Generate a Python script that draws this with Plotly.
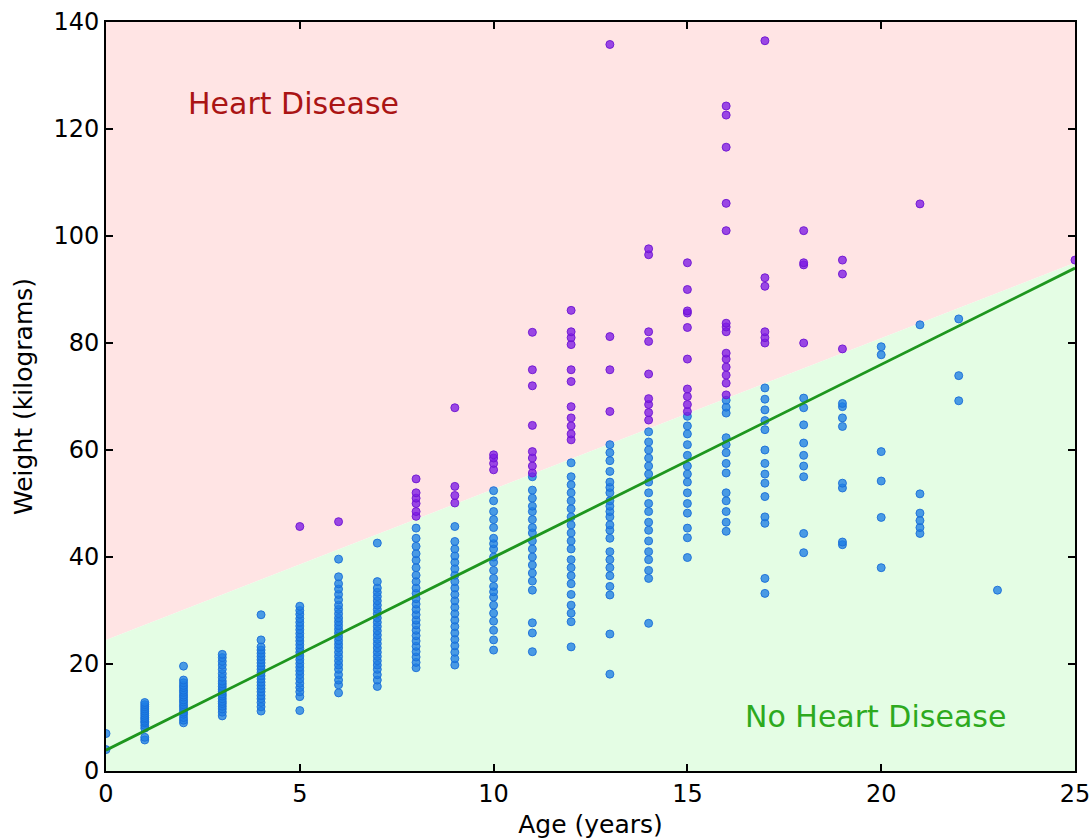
import plotly.graph_objects as go

# ---- data ----
ages = [0, 1, 2, 3, 4, 5, 6, 7, 8, 9, 10, 11, 12, 13, 14, 15, 16, 17, 18, 19, 20, 21, 22, 23, 25]

w_age0 = [7.0, 4.0]
w_age1 = [5.8, 6.3, 8.0, 8.5, 9.0, 9.3, 9.7, 10.0, 10.4, 10.8, 11.2, 11.6, 12.0, 12.4, 12.8]
w_age2 = [9.0, 9.5, 10.0, 10.6, 11.0, 11.5, 12.0, 12.4, 12.9, 13.3, 13.8, 14.2, 14.7, 15.1, 15.6, 16.0, 16.5, 17.0, 19.6]
w_age3 = [10.3, 11.0, 11.6, 12.1, 12.6, 13.0, 13.5, 14.0, 14.4, 14.9, 15.3, 15.8, 16.3, 16.8, 17.5, 18.2, 19.0, 19.8, 20.5, 21.2, 21.8]
w_age4 = [11.2, 12.0, 12.8, 13.5, 14.1, 14.8, 15.4, 16.0, 16.6, 17.2, 17.8, 18.4, 19.0, 19.6, 20.2, 20.8, 21.4, 22.0, 22.6, 23.2, 24.5, 29.2]
w_age5 = [11.3, 13.9, 14.8, 15.6, 16.4, 17.2, 18.0, 18.7, 19.4, 20.1, 20.8, 21.5, 22.2, 22.9, 23.6, 24.3, 25.0, 25.7, 26.4, 27.1, 27.8, 28.5, 29.3, 30.0, 30.8, 45.7]
w_age6 = [14.6, 16.1, 17.0, 18.0, 19.0, 19.8, 20.6, 21.4, 22.2, 23.0, 23.7, 24.4, 25.1, 25.8, 26.5, 27.2, 27.9, 28.6, 29.4, 30.2, 31.0, 32.0, 33.0, 34.0, 35.0, 36.3, 39.6, 46.6]
w_age7 = [15.8, 17.0, 18.0, 19.0, 19.8, 20.6, 21.4, 22.2, 23.0, 23.8, 24.6, 25.4, 26.2, 27.0, 27.8, 28.6, 29.4, 30.2, 31.0, 31.8, 32.6, 33.4, 34.2, 35.4, 42.6]
w_age8 = [19.3, 20.3, 21.3, 22.3, 23.3, 24.3, 25.3, 26.3, 27.3, 28.2, 29.2, 30.2, 31.2, 32.2, 33.2, 34.2, 35.4, 36.6, 38.0, 39.4, 40.6, 42.0, 43.5, 45.4, 47.6, 48.5, 50.0, 51.0, 52.0, 54.6]
w_age9 = [19.8, 21.0, 22.2, 23.4, 24.6, 25.8, 27.0, 28.2, 29.4, 30.6, 31.8, 33.0, 34.2, 35.4, 36.6, 37.8, 39.0, 40.2, 41.5, 42.9, 45.7, 50.1, 51.5, 53.2, 67.9]
w_age10 = [22.6, 24.5, 26.3, 28.0, 29.5, 31.0, 32.5, 33.5, 34.5, 36.0, 37.5, 39.0, 40.0, 41.5, 42.5, 43.5, 45.5, 47.0, 48.5, 50.5, 52.4, 56.3, 57.5, 58.5, 59.1]
w_age11 = [22.3, 25.8, 27.7, 33.8, 35.5, 37.0, 38.5, 40.0, 41.5, 43.0, 44.5, 45.5, 47.0, 48.5, 49.5, 51.0, 52.5, 55.0, 55.7, 57.0, 58.5, 59.7, 64.6, 72.0, 75.0, 82.0]
w_age12 = [23.2, 27.9, 29.5, 31.0, 33.0, 35.0, 36.5, 38.0, 39.5, 41.5, 43.0, 44.5, 46.0, 47.5, 49.0, 50.5, 52.0, 53.5, 55.0, 57.6, 61.9, 63.0, 64.5, 66.0, 68.1, 72.8, 75.0, 79.7, 81.0, 82.1, 86.1]
w_age13 = [18.1, 25.6, 32.9, 34.5, 36.5, 38.0, 39.5, 41.0, 43.5, 45.0, 46.0, 47.5, 48.5, 49.5, 50.5, 52.0, 53.0, 54.0, 56.0, 58.0, 59.5, 61.0, 67.2, 75.0, 81.2, 135.8]
w_age14 = [27.6, 36.0, 37.5, 39.5, 41.0, 43.0, 45.0, 46.5, 48.5, 50.0, 52.0, 54.0, 55.5, 57.0, 58.5, 60.0, 61.5, 63.4, 65.6, 67.0, 68.5, 69.6, 74.2, 80.3, 82.1, 96.5, 97.6]
w_age15 = [39.9, 43.6, 45.4, 48.2, 50.0, 52.0, 54.0, 55.5, 57.0, 59.0, 61.0, 63.0, 64.5, 66.3, 67.2, 68.5, 70.0, 71.4, 77.0, 82.9, 85.6, 86.0, 90.0, 95.0]
w_age16 = [44.8, 46.5, 48.5, 50.5, 52.0, 55.7, 57.5, 59.5, 61.0, 62.3, 66.9, 68.0, 69.3, 70.3, 72.5, 74.0, 75.5, 77.0, 78.1, 82.1, 83.0, 83.7, 101.0, 106.1, 116.6, 122.6, 124.3]
w_age17 = [33.2, 36.0, 46.3, 47.5, 51.3, 53.8, 55.5, 57.5, 60.0, 63.8, 65.5, 67.5, 69.5, 71.6, 80.0, 81.0, 82.1, 90.6, 92.2, 136.5]
w_age18 = [40.8, 44.4, 55.0, 57.0, 59.0, 61.3, 64.7, 67.9, 69.7, 80.0, 94.6, 95.0, 101.0]
w_age19 = [42.3, 42.8, 52.9, 53.8, 64.4, 66.0, 68.1, 68.7, 78.9, 92.9, 95.5]
w_age20 = [38.0, 47.4, 54.2, 59.7, 77.8, 79.3]
w_age21 = [44.4, 45.5, 46.8, 48.2, 51.8, 83.4, 106.0]
w_age22 = [69.2, 73.9, 84.5]
w_age23 = [33.8]
w_age25 = [95.5]

weights_by_age = [w_age0, w_age1, w_age2, w_age3, w_age4, w_age5, w_age6, w_age7, w_age8,
                  w_age9, w_age10, w_age11, w_age12, w_age13, w_age14, w_age15, w_age16,
                  w_age17, w_age18, w_age19, w_age20, w_age21, w_age22, w_age23, w_age25]

# decision boundary between the two shaded regions
boundary_x = [0, 25]
boundary_y = [24.5, 95.0]

# fitted regression line (green)
fit_x = [0, 25]
fit_y = [3.9, 94.0]

x_range = [0, 25]
y_range = [0, 140]
x_ticks = [0, 5, 10, 15, 20, 25]
y_ticks = [0, 20, 40, 60, 80, 100, 120, 140]

# ---- build point lists, coloured by side of the boundary ----
slope = (boundary_y[1] - boundary_y[0]) / (boundary_x[1] - boundary_x[0])
bx_blue, by_blue, bx_purple, by_purple = [], [], [], []
for a, ws in zip(ages, weights_by_age):
    for w in ws:
        if w > boundary_y[0] + slope * (a - boundary_x[0]):
            bx_purple.append(a); by_purple.append(w)
        else:
            bx_blue.append(a); by_blue.append(w)

FONT = "DejaVu Sans"
fig = go.Figure()

# shaded regions
fig.add_trace(go.Scatter(
    x=[boundary_x[0], boundary_x[1], x_range[1], x_range[0]],
    y=[boundary_y[0], boundary_y[1], y_range[1], y_range[1]],
    fill="toself", fillcolor="rgb(255,228,228)", mode="none", hoverinfo="skip", showlegend=False))
fig.add_trace(go.Scatter(
    x=[boundary_x[0], boundary_x[1], x_range[1], x_range[0]],
    y=[boundary_y[0], boundary_y[1], y_range[0], y_range[0]],
    fill="toself", fillcolor="rgb(228,253,228)", mode="none", hoverinfo="skip", showlegend=False))

# points
fig.add_trace(go.Scatter(
    x=bx_blue, y=by_blue, mode="markers", showlegend=False,
    marker=dict(size=8, color="rgba(30,125,228,0.78)",
                line=dict(width=1, color="rgba(25,110,215,0.9)"))))
fig.add_trace(go.Scatter(
    x=bx_purple, y=by_purple, mode="markers", showlegend=False,
    marker=dict(size=8, color="rgba(125,25,228,0.78)",
                line=dict(width=1, color="rgba(110,20,210,0.9)"))))

# regression line
fig.add_trace(go.Scatter(x=fit_x, y=fit_y, mode="lines", showlegend=False,
                         line=dict(color="rgb(30,150,30)", width=2.8)))

fig.add_annotation(x=4.83, y=124.7, text="Heart Disease", showarrow=False,
                   font=dict(family=FONT, size=30, color="rgb(170,20,20)"))
fig.add_annotation(x=19.84, y=10.1, text="No Heart Disease", showarrow=False,
                   font=dict(family=FONT, size=30, color="rgb(45,170,30)"))

axis_common = dict(showgrid=False, zeroline=False, showline=True, mirror="ticks",
                   linecolor="black", linewidth=2, ticks="inside", ticklen=7,
                   tickwidth=1.5, tickcolor="black", automargin=False,
                   tickfont=dict(family=FONT, size=24, color="black"))

fig.update_xaxes(range=x_range, tickvals=x_ticks, **axis_common,
                 title=dict(text="Age (years)", font=dict(family=FONT, size=25, color="black"),
                            standoff=13))
fig.update_yaxes(range=y_range, tickvals=y_ticks, **axis_common,
                 title=dict(text="Weight (kilograms)", font=dict(family=FONT, size=25, color="black"),
                            standoff=14))

fig.update_layout(width=1092, height=839, paper_bgcolor="white", plot_bgcolor="white",
                  margin=dict(l=106, r=17, t=22, b=68), font=dict(family=FONT))

# remove the default page margin so the figure fills the window exactly
fig.write_html("out.html", config={"displayModeBar": False},
               post_script="document.body.style.margin='0';document.body.style.overflow='hidden';")
